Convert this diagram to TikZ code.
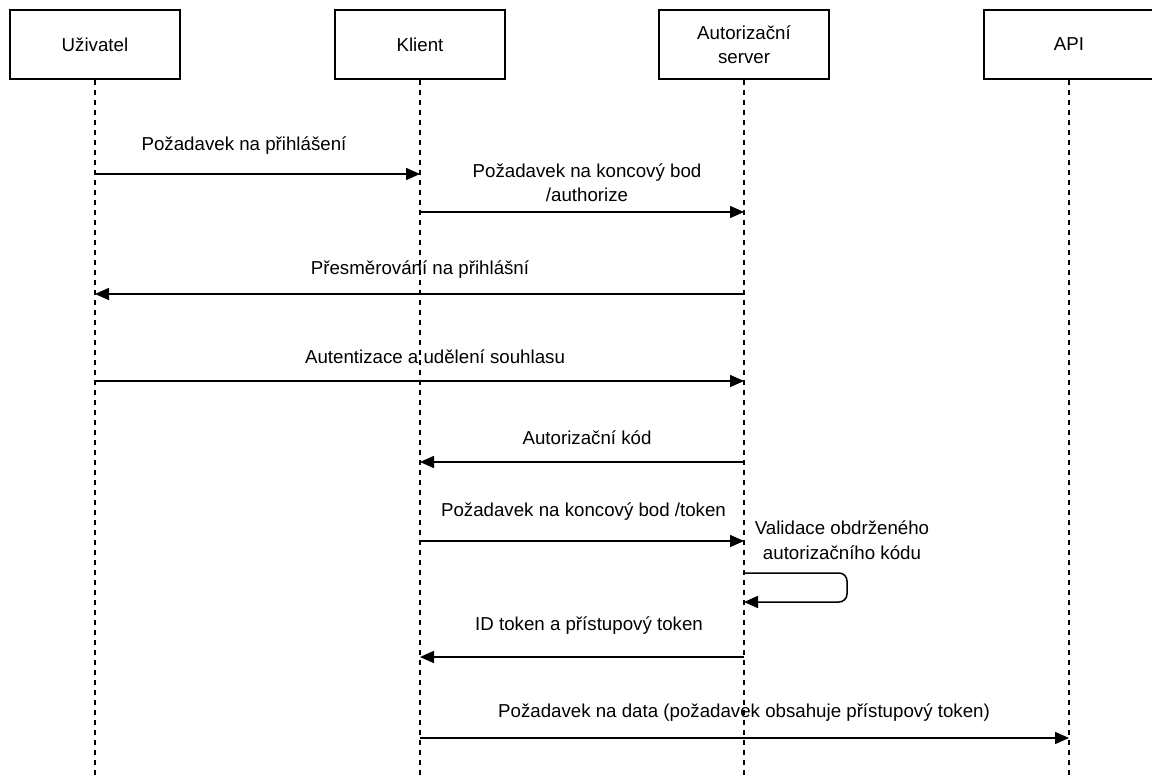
\documentclass[tikz,border=0pt]{standalone}
\usepackage{fontspec}
\setmainfont{Liberation Sans}
\usetikzlibrary{arrows.meta}
\begin{document}
\begin{tikzpicture}[x=1pt,y=-1pt,
  actor/.style={draw,line width=1.5pt,minimum width=170pt,minimum height=69pt,
    align=center,inner sep=0pt,font=\fontsize{18.7}{24}\selectfont},
  life/.style={line width=1.5pt,dash pattern=on 5pt off 5pt},
  msg/.style={line width=1.5pt,-{Triangle[length=14pt,width=12pt]}},
  lbl/.style={font=\fontsize{18.7}{24.5}\selectfont,align=center,inner sep=0pt}]
\useasboundingbox (0,0) rectangle (1152,778);

% participants
\node[actor] (u) at (95,44.5)   {Uživatel};
\node[actor] (k) at (420,44.5)  {Klient};
\node[actor] (s) at (744,44.5)  {Autorizační\\server};
\node[actor] (a) at (1069,44.5) {API};

% lifelines
\coordinate (ue) at (95,778);
\coordinate (ke) at (420,778);
\coordinate (se) at (744,778);
\coordinate (ae) at (1069,778);
\draw[life] (u.south) -- (ue);
\draw[life] (k.south) -- (ke);
\draw[life] (s.south) -- (se);
\draw[life] (a.south) -- (ae);

% messages
\draw[msg] (u |- 0,174) -- (k |- 0,174);
\node[lbl] (m1) at (244,146) {Požadavek na přihlášení};

\draw[msg] (k |- 0,212) -- (s |- 0,212);
\node[lbl] (m2) at (587,182.5) {Požadavek na koncový bod\\/authorize};

\draw[msg] (s |- 0,294) -- (u |- 0,294);
\node[lbl] (m3) at (420,270) {Přesměrování na přihlášní};

\draw[msg] (u |- 0,381) -- (s |- 0,381);
\node[lbl] (m4) at (435,357) {Autentizace a udělení souhlasu};

\draw[msg] (s |- 0,462) -- (k |- 0,462);
\node[lbl] (m5) at (587,438) {Autorizační kód};

\draw[msg] (k |- 0,541) -- (s |- 0,541);
\node[lbl] (m6) at (583.5,512) {Požadavek na koncový bod /token};

\draw[msg,rounded corners=8pt] (s |- 0,573) -- (847,573) -- (847,602) -- (s |- 0,602);
\node[lbl] (m7) at (842,540) {Validace obdrženého\\autorizačního kódu};

\draw[msg] (s |- 0,657) -- (k |- 0,657);
\node[lbl] (m8) at (589,626) {ID token a přístupový token};

\draw[msg] (k |- 0,738) -- (a |- 0,738);
\node[lbl] (m9) at (744,713) {Požadavek na data (požadavek obsahuje přístupový token)};
\end{tikzpicture}
\end{document}
